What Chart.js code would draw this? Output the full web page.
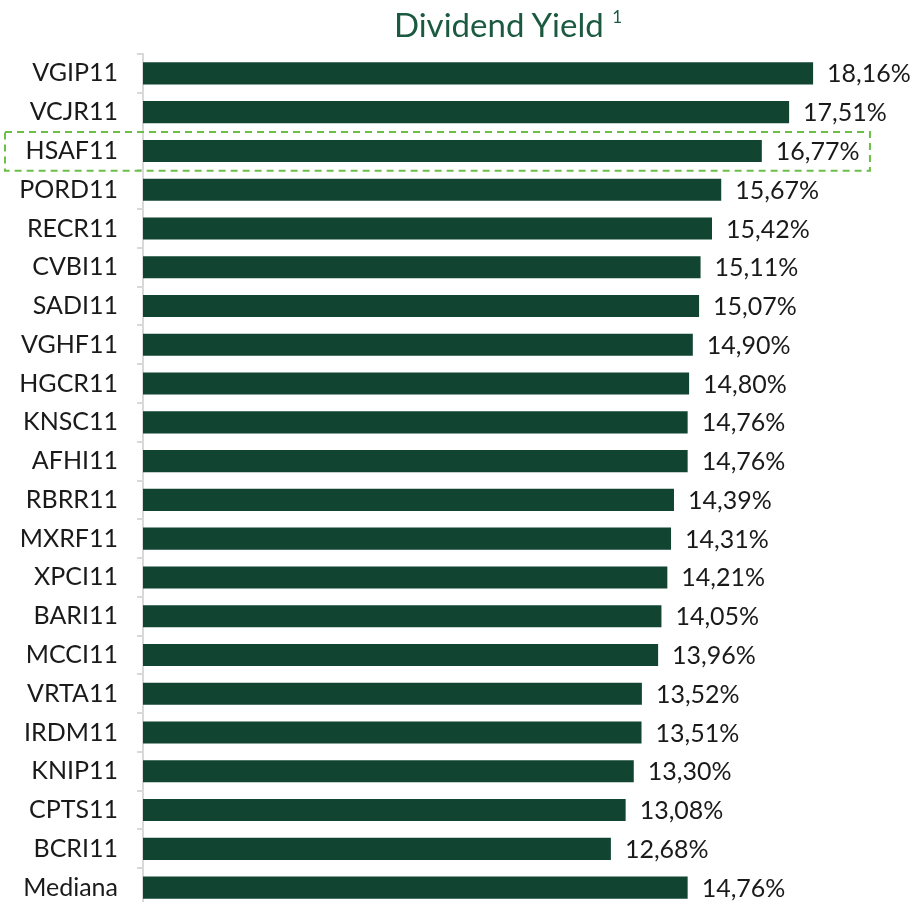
<!DOCTYPE html>
<html>
<head>
<meta charset="utf-8">
<script src="https://cdn.jsdelivr.net/npm/chart.js@4/dist/chart.umd.min.js"></script>
<style>
  html, body { margin: 0; padding: 0; background: #fff; overflow: hidden; }
  #wrap { position: relative; width: 912px; height: 902px; overflow: hidden; }
  #title {
    position: absolute; top: 4px; left: 0; width: 1016px; text-align: center;
    font-family: Lato, sans-serif; font-size: 33px; color: #1b5a40;
  }
  #title sup { font-size: 17px; position: relative; top: -2px; }
  canvas { position: absolute; left: 0; top: 0; }
</style>
</head>
<body>
<div id="wrap">
  <canvas id="chart" width="912" height="941"></canvas>
  <div id="title">Dividend Yield <sup>1</sup></div>
</div>
<script>
// Dados do gráfico
const categories = ["VGIP11", "VCJR11", "HSAF11", "PORD11", "RECR11", "CVBI11", "SADI11", "VGHF11",
  "HGCR11", "KNSC11", "AFHI11", "RBRR11", "MXRF11", "XPCI11", "BARI11", "MCCI11", "VRTA11",
  "IRDM11", "KNIP11", "CPTS11", "BCRI11", "Mediana"];
const yields = [18.16, 17.51, 16.77, 15.67, 15.42, 15.11, 15.07, 14.90, 14.80, 14.76, 14.76,
  14.39, 14.31, 14.21, 14.05, 13.96, 13.52, 13.51, 13.30, 13.08, 12.68, 14.76];
const highlighted = "HSAF11";

const barColor = "#114532";
const fontFamily = "Lato, sans-serif";

// Rótulos de valor no fim das barras
const valueLabels = {
  id: "valueLabels",
  afterDatasetsDraw(chart) {
    const ctx = chart.ctx;
    const meta = chart.getDatasetMeta(0);
    ctx.save();
    ctx.font = "25px " + fontFamily;
    ctx.fillStyle = "#1a1a1a";
    ctx.textAlign = "left";
    ctx.textBaseline = "middle";
    meta.data.forEach((bar, i) => {
      const txt = yields[i].toFixed(2).replace(".", ",") + "%";
      ctx.fillText(txt, bar.x + 14, bar.y + 1);
    });
    ctx.restore();
  }
};

// Caixa tracejada em volta do fundo destacado
const highlightBox = {
  id: "highlightBox",
  afterDraw(chart) {
    const y = chart.scales.y;
    const idx = categories.indexOf(highlighted);
    if (idx < 0) return;
    const step = y.getPixelForValue(1) - y.getPixelForValue(0);
    const cy = y.getPixelForValue(idx);
    const ctx = chart.ctx;
    ctx.save();
    ctx.strokeStyle = "#6cbf46";
    ctx.lineWidth = 2;
    ctx.setLineDash([7, 5]);
    ctx.strokeRect(5, cy - step / 2 + 0.5, chart.scales.x.getPixelForValue(19.7) - 5, step);
    ctx.restore();
  }
};

new Chart(document.getElementById("chart"), {
  type: "bar",
  data: {
    labels: categories,
    datasets: [{
      data: yields,
      backgroundColor: barColor,
      borderWidth: 0,
      categoryPercentage: 1,
      barPercentage: 0.57
    }]
  },
  options: {
    indexAxis: "y",
    responsive: false,
    animation: false,
    layout: { padding: { top: 54, right: 31, bottom: 3, left: 0 } },
    plugins: {
      legend: { display: false },
      tooltip: { enabled: false }
    },
    scales: {
      x: {
        display: false,
        min: 0,
        max: 20
      },
      y: {
        afterFit(scale) { scale.width = 143; },
        border: { display: true, color: "#d9d9d9", width: 2 },
        grid: {
          offset: true,
          drawOnChartArea: false,
          drawTicks: true,
          tickLength: 6,
          color: "#d9d9d9",
          lineWidth: 2
        },
        ticks: {
          padding: 19,
          color: "#1a1a1a",
          font: { family: fontFamily, size: 25 }
        }
      }
    }
  },
  plugins: [valueLabels, highlightBox]
});
</script>
</body>
</html>
